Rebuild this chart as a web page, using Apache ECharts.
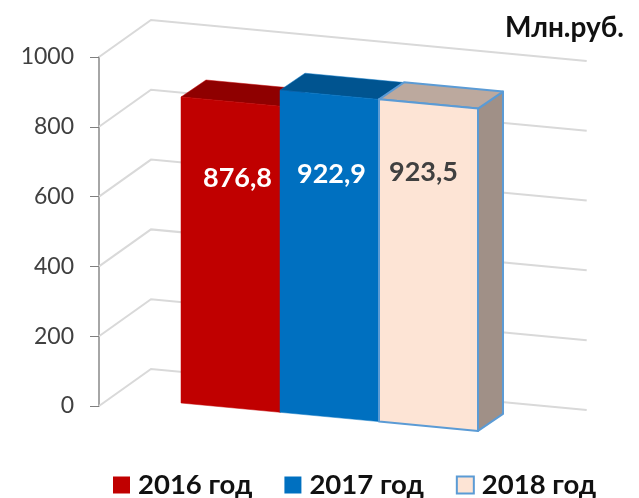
<!DOCTYPE html>
<html>
<head>
<meta charset="utf-8">
<style>html,body{margin:0;padding:0;background:#fff}#c{width:639px;height:498px}</style>
<script src="https://cdn.jsdelivr.net/npm/echarts@6/dist/echarts.min.js"></script>
</head>
<body>
<div id="c"></div>
<script>
var categories = ['2016 год', '2017 год', '2018 год'];
var values = [876.8, 922.9, 923.5];
var valueLabels = ['876,8', '922,9', '923,5'];
var tickValues = [0, 200, 400, 600, 800, 1000];
var unitLabel = 'Млн.руб.';

var FONT = 'Lato, "Open Sans", sans-serif';
var SLOPE = 0.094, DEPTH_X = 25, DEPTH_Y = -17, BASE_SHIFT = -3;
var styles = [
  {front: '#c00000', top: '#8f0000', side: '#8f0000', stroke: '#c00000', strokeW: 0.5, text: '#ffffff', dx: 7, dy: 77},
  {front: '#0070c0', top: '#005490', side: '#005490', stroke: '#0070c0', strokeW: 0.5, text: '#ffffff', dx: 2, dy: 79},
  {front: '#fde4d5', top: '#bca99e', side: '#a09087', stroke: '#5b9bd5', strokeW: 2, text: '#404040', dx: -5, dy: 68}
];

function wallItem(params, api) {
  var cs = params.coordSys;
  var y = api.coord([0, api.value(1)])[1];
  var ax = cs.x - 82, bx = cs.x - 30, ex = cs.x + 405.7;
  return {
    type: 'polyline', silent: true,
    shape: {points: [[ax, y], [bx, y - 37], [ex, y - 37 + (ex - bx) * SLOPE]]},
    style: {stroke: '#d9d9d9', lineWidth: 2, fill: null}
  };
}

function barItemFor(s) {
  return function (params, api) {
    var cs = params.coordSys;
    var i = api.value(0);
    var c = api.coord([i, api.value(1)]);
    var zero = api.coord([i, 0])[1];
    var w = api.size([1, 0])[0];
    var x0 = c[0] - w / 2, x1 = c[0] + w / 2;
    var h = zero - c[1];
    function base(x) { return zero + BASE_SHIFT + (x - cs.x) * SLOPE; }
    var bl = [x0, base(x0)], br = [x1, base(x1)];
    var tl = [x0, bl[1] - h], tr = [x1, br[1] - h];
    function back(p) { return [p[0] + DEPTH_X, p[1] + DEPTH_Y]; }
    function face(points, fill) {
      return {type: 'polygon', shape: {points: points},
        style: {fill: fill, stroke: s.stroke, lineWidth: s.strokeW, lineJoin: 'round'}};
    }
    return {
      type: 'group',
      children: [
        face([tr, br, back(br), back(tr)], s.side),
        face([tl, tr, back(tr), back(tl)], s.top),
        face([tl, tr, br, bl], s.front),
        {type: 'text', style: {
          x: c[0] + s.dx, y: (tl[1] + tr[1]) / 2 + s.dy,
          text: valueLabels[i], fill: s.text, align: 'center', verticalAlign: 'middle',
          font: 'bold 27px ' + FONT
        }}
      ]
    };
  };
}

var series = [{
  type: 'custom', name: 'walls', silent: true, clip: false, z: 1,
  renderItem: wallItem,
  data: tickValues.map(function (v) { return [0, v]; })
}];
categories.forEach(function (name, i) {
  series.push({
    type: 'custom', name: name, clip: false, z: 2 + i,
    renderItem: barItemFor(styles[i]),
    itemStyle: {color: styles[i].front},
    encode: {x: 0, y: 1},
    data: [[i, values[i]]]
  });
});

var chart = echarts.init(document.getElementById('c'), null, {renderer: 'canvas'});
chart.setOption({
  animation: false,
  backgroundColor: '#ffffff',
  title: {
    text: unitLabel, left: 500, top: 9,
    textStyle: {fontFamily: FONT, fontWeight: 'bold', fontSize: 28, color: '#111111'}
  },
  grid: {left: 181, top: 57, width: 297, height: 349},
  xAxis: {type: 'category', data: categories, show: false},
  yAxis: {
    type: 'value', min: 0, max: 1000, interval: 200, offset: 82,
    axisLine: {show: true, lineStyle: {color: '#a6a6a6', width: 2}},
    axisTick: {show: true, length: 9, lineStyle: {color: '#7f7f7f', width: 1}},
    axisLabel: {fontFamily: FONT, fontSize: 23, color: '#404040', margin: 25,
      formatter: function (v) { return String(v); }},
    splitLine: {show: false}
  },
  legend: {
    left: 113, top: 471, itemWidth: 17, itemHeight: 17, itemGap: 32,
    padding: 0,
    textStyle: {fontFamily: FONT, fontWeight: 'bold', fontSize: 27.5, color: '#111111', padding: [0, 0, 0, 3]},
    data: categories.map(function (n, i) {
      return {name: n, icon: 'rect', itemStyle: {color: styles[i].front, borderColor: styles[i].stroke, borderWidth: i === 2 ? 2 : 0}};
    })
  },
  series: series
});
</script>
</body>
</html>
